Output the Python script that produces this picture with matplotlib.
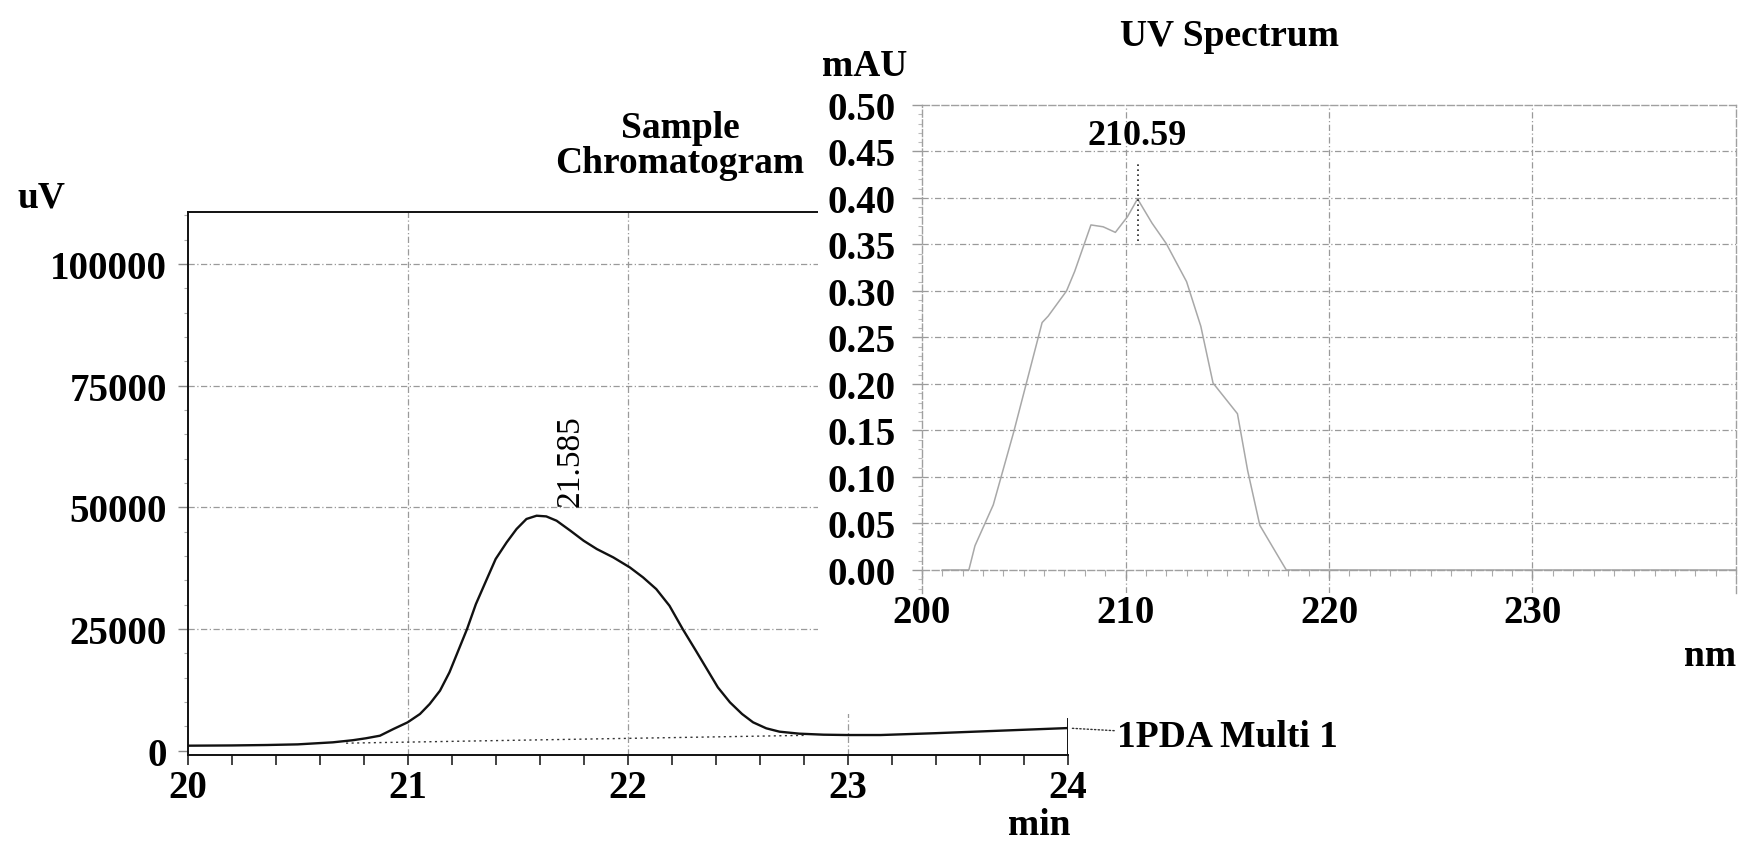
import matplotlib.pyplot as plt
from matplotlib.patches import Rectangle
from matplotlib.ticker import MultipleLocator

plt.rcParams['font.family'] = ['Liberation Serif', 'DejaVu Serif']
plt.rcParams['font.weight'] = 'bold'

# sample chromatogram, time (min) vs signal (uV)
chrom_time = [20.0, 20.2, 20.36, 20.5, 20.66, 20.75, 20.81, 20.874, 20.935,
              21.0, 21.056, 21.10, 21.147, 21.19, 21.23, 21.27, 21.31, 21.36,
              21.40, 21.45, 21.495, 21.54, 21.586, 21.63, 21.677, 21.74, 21.80,
              21.86, 21.935, 22.01, 22.07, 22.13, 22.19, 22.25, 22.31, 22.36,
              22.41, 22.465, 22.52, 22.57, 22.63, 22.69, 22.78, 22.89, 23.0,
              23.15, 23.4, 23.6, 23.8, 24.0]
chrom_uv = [1030, 1080, 1170, 1300, 1720, 2150, 2550, 3080, 4450,
            5830, 7540, 9590, 12330, 16100, 20550, 25000, 30100, 35270,
            39380, 42800, 45540, 47600, 48270, 48130, 47240, 45180, 43130,
            41420, 39700, 37650, 35600, 33200, 29780, 25000, 20550, 16780,
            13010, 9930, 7540, 5830, 4600, 3910, 3500, 3290, 3220,
            3220, 3600, 3950, 4300, 4650]
base_time = [20.72, 22.8]
base_uv = [1550, 3150]
peak_time = 21.585
chrom_xticks = [20, 21, 22, 23, 24]
chrom_yticks = [0, 25000, 50000, 75000, 100000]
trace_name = "1PDA Multi 1"

# UV spectrum of the peak, wavelength (nm) vs absorbance (mAU)
wl = [201.0, 202.3, 202.6, 203.5, 204.5, 205.2, 205.9, 206.2, 207.1, 207.5,
      208.3, 208.9, 209.5, 210.1, 210.59, 211.3, 212.0, 213.0, 213.7, 214.3,
      215.5, 216.0, 216.6, 217.6, 217.9, 240.0]
mau = [0.0, 0.0, 0.026, 0.070, 0.148, 0.207, 0.266, 0.273, 0.300, 0.321,
       0.371, 0.369, 0.363, 0.380, 0.399, 0.373, 0.351, 0.310, 0.262, 0.201,
       0.168, 0.107, 0.048, 0.011, 0.0, 0.0]
lambda_max = 210.59
uv_xticks = [200, 210, 220, 230]
uv_yticks = [0.00, 0.05, 0.10, 0.15, 0.20, 0.25, 0.30, 0.35, 0.40, 0.45, 0.50]

grid_kw = dict(color='#9a9a9a', lw=0.9, ls=(0, (5, 2, 1, 2)))
TICK_FS = 28
LABEL_FS = 27

fig = plt.figure(figsize=(17.44, 8.45), dpi=100)

# ---- chromatogram ----
ax = fig.add_axes([0.1076, 0.1058, 0.5046, 0.6418])
ax.set_zorder(0)
for t in chrom_xticks[1:-1]:
    ax.axvline(t, zorder=0, **grid_kw)
for v in chrom_yticks[1:]:
    ax.axhline(v, zorder=0, **grid_kw)
ax.plot(chrom_time, chrom_uv, color='#111111', lw=1.7)
ax.plot(base_time, base_uv, color='#333333', lw=1.0, ls=(0, (1.5, 2.5)))
ax.set_xlim(20, 24)
ax.set_ylim(-800, 110600)
ax.set_xticks(chrom_xticks)
ax.set_yticks(chrom_yticks)
ax.xaxis.set_minor_locator(MultipleLocator(0.2))
ax.yaxis.set_minor_locator(MultipleLocator(5000))
ax.spines['right'].set_visible(False)
for s in ['left', 'top', 'bottom']:
    ax.spines[s].set_linewidth(1.4)
    ax.spines[s].set_color('#111111')
ax.axvline(24, ymax=0.0655, color='#111111', lw=1.4)
ax.tick_params(axis='x', which='both', direction='out', length=7, width=1.2,
               color='#222222', labelsize=TICK_FS, pad=3.5)
ax.tick_params(axis='y', which='major', direction='out', length=7, width=1,
               color='#888888', labelsize=TICK_FS, pad=8)
ax.tick_params(axis='y', which='minor', direction='out', length=3, width=0.8,
               color='#aaaaaa')
ax.text(peak_time + 0.155, 50300, f"{peak_time:.3f}", rotation=90,
        ha='center', va='bottom', fontsize=24, fontweight='normal')
ax.annotate(trace_name, xy=(chrom_xticks[-1], chrom_uv[-1]),
            xytext=(1117 / 1744, 1 - 738 / 845), textcoords='figure fraction',
            ha='left', va='center', fontsize=LABEL_FS, annotation_clip=False,
            arrowprops=dict(arrowstyle='-', ls=':', color='#333333', lw=1,
                            shrinkA=0, shrinkB=2))

fig.text(17 / 1744, 1 - 198 / 845, "uV", ha='left', va='center', fontsize=LABEL_FS)
fig.text(1070 / 1744, 1 - 826 / 845, "min", ha='right', va='center', fontsize=LABEL_FS)
fig.text(680 / 1744, 1 - 146 / 845, "Sample\nChromatogram", ha='center',
         va='center', ma='center', fontsize=LABEL_FS, linespacing=1.0)

# white panel that the spectrum sits on
fig.patches.append(Rectangle((818 / 1744, 1 - 715 / 845), 1 - 818 / 1744, 715 / 845,
                             transform=fig.transFigure, facecolor='white',
                             edgecolor='none', zorder=1))

# ---- UV spectrum ----
ax2 = fig.add_axes([0.5287, 0.2968, 0.4667, 0.5778])
ax2.set_zorder(2)
for w in uv_xticks[1:]:
    ax2.axvline(w, zorder=0, **grid_kw)
for v in uv_yticks[1:-1]:
    ax2.axhline(v, zorder=0, **grid_kw)
ax2.plot(wl, mau, color='#a8a8a8', lw=1.1)
ax2.vlines(lambda_max, 0.354, 0.44, color='#222222', lw=1.2, ls=(0, (1, 2)))
ax2.text(lambda_max - 0.03, 0.449, f"{lambda_max:.2f}", ha='center',
         va='bottom', fontsize=26)
ax2.set_xlim(200, 240)
ax2.set_ylim(-0.025, 0.5)
ax2.set_xticks(uv_xticks)
ax2.set_yticks(uv_yticks)
ax2.set_yticklabels([f"{v:.2f}" for v in uv_yticks])
ax2.xaxis.set_minor_locator(MultipleLocator(1))
ax2.yaxis.set_minor_locator(MultipleLocator(0.01))
ax2.spines['bottom'].set_position(('data', 0))
for s in ['left', 'top', 'right', 'bottom']:
    ax2.spines[s].set_color('#a0a0a0')
    ax2.spines[s].set_linestyle((0, (5, 2)))
    ax2.spines[s].set_linewidth(1.0)
ax2.tick_params(axis='x', which='major', direction='out', length=6, width=1,
                color='#999999', labelsize=TICK_FS, pad=11)
ax2.tick_params(axis='x', which='minor', direction='out', length=4, width=0.8,
                color='#aaaaaa')
ax2.tick_params(axis='y', which='major', direction='out', length=7, width=1,
                color='#999999', labelsize=TICK_FS, pad=12)
ax2.tick_params(axis='y', which='minor', direction='out', length=3, width=0.8,
                color='#bbbbbb')

fig.text(822 / 1744, 1 - 66 / 845, "mAU", ha='left', va='center', fontsize=LABEL_FS)
fig.text(1229 / 1744, 1 - 36 / 845, "UV Spectrum", ha='center', va='center',
         fontsize=LABEL_FS)
fig.text(1736 / 1744, 1 - 657 / 845, "nm", ha='right', va='center', fontsize=LABEL_FS)

fig.savefig('out.png', dpi=100, facecolor='white')
